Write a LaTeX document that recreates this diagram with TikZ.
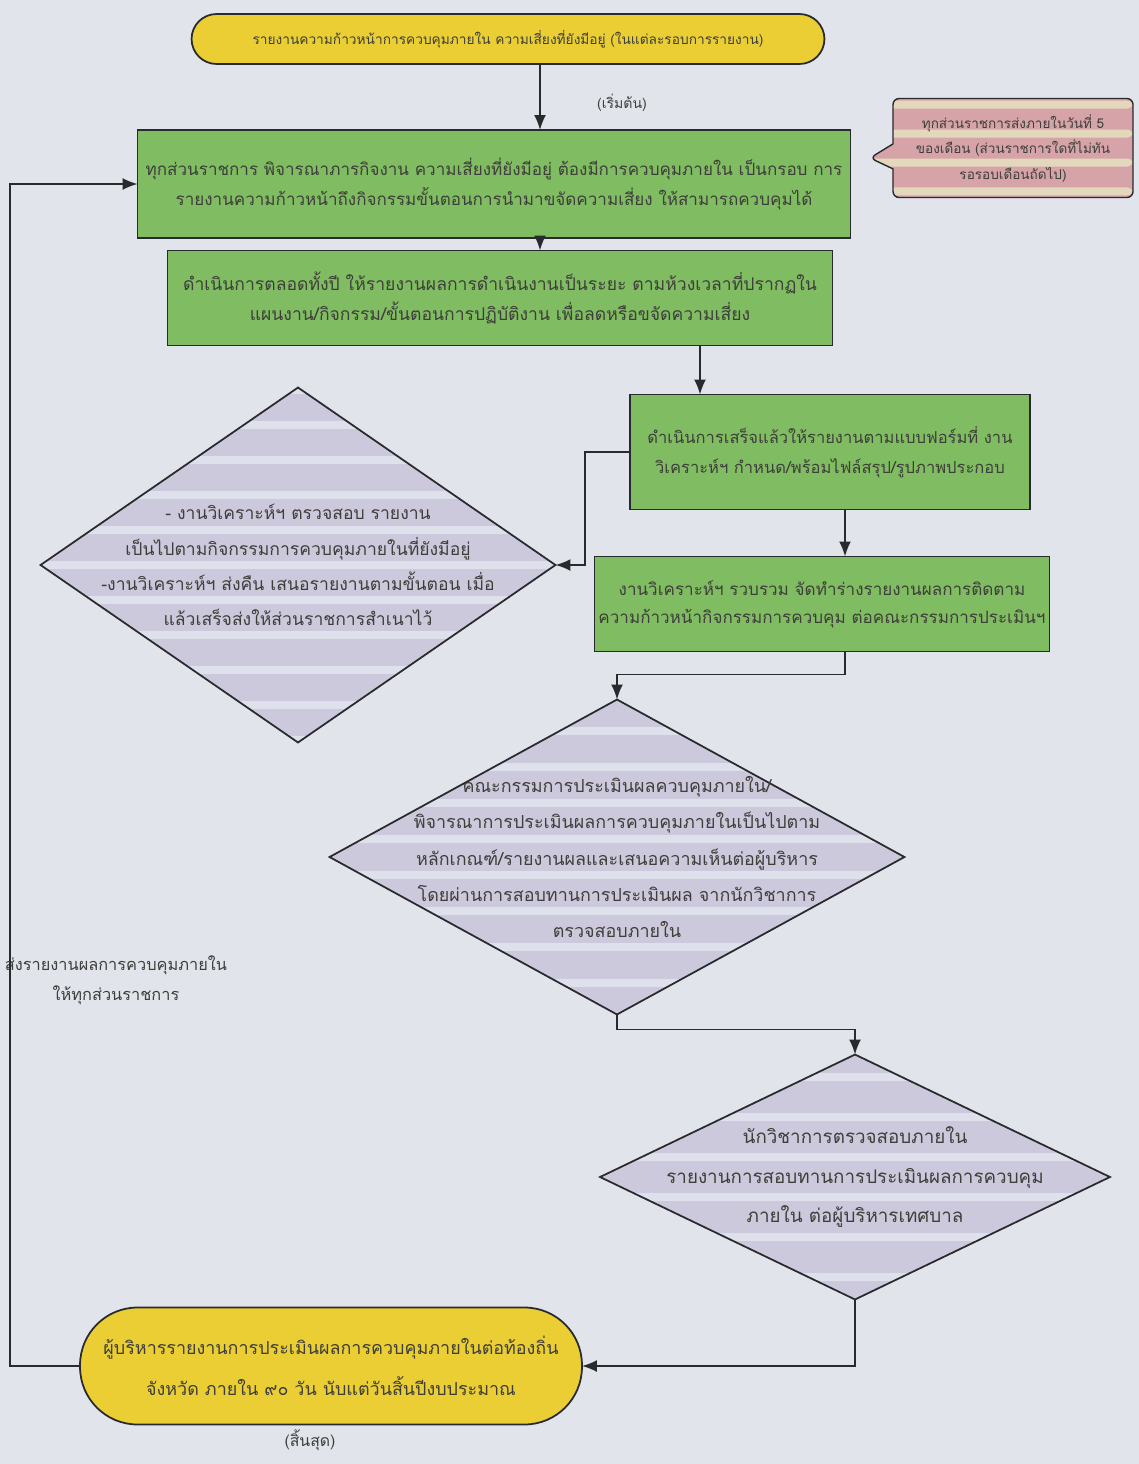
\documentclass[tikz,border=0pt]{standalone}
\usepackage{fontspec}
\newfontfamily\thaifont[Script=Thai]{Loma}
\usetikzlibrary{shapes.geometric, shapes.callouts, arrows.meta, positioning}
\definecolor{bgpaper}{RGB}{225,228,235}
\definecolor{termyellow}{RGB}{234,206,52}
\definecolor{boxgreen}{RGB}{128,188,98}
\definecolor{diamgray}{RGB}{205,201,220}
\definecolor{diamstripe}{RGB}{222,224,235}
\definecolor{notepink}{RGB}{214,164,168}
\definecolor{notestripe}{RGB}{228,216,188}
\definecolor{inkline}{RGB}{40,42,45}
\definecolor{inktext}{RGB}{62,62,58}

\begin{document}
\begin{tikzpicture}[x=0.02cm, y=-0.02cm,
    every node/.style={text=inktext},
    stripes/.style n args={3}{path picture={
        \foreach \k in {-12,...,12}{
          \fill[#1] ([yshift=\k*#2+#3-0.8mm]path picture bounding box.west)
            rectangle ([yshift=\k*#2+#3+0.8mm]path picture bounding box.east);}}},
    terminal/.style={draw=inkline, fill=termyellow, line width=1pt, align=center,
        inner sep=0pt, outer sep=0pt},
    stepbox/.style={draw=inkline, fill=boxgreen, line width=1pt, align=center,
        inner sep=0pt, outer sep=0pt},
    checkdiam/.style={diamond, draw=inkline, fill=diamgray, line width=1pt,
        inner sep=0pt, outer sep=0pt},
    checktext/.style={align=center, inner sep=0pt},
    link/.style={draw=inkline, line width=1pt, -{Latex[length=3mm,width=2.4mm]}}
  ]
  % paper
  \fill[bgpaper] (0,0) rectangle (1139,1464);
  \useasboundingbox (0,0) rectangle (1139,1464);

  % start
  \node[terminal, rounded corners=0.5cm, minimum width=12.66cm, minimum height=1cm,
    font=\thaifont\fontsize{7.8}{10}\selectfont] (start) at (508,39)
    {รายงานความก้าวหน้าการควบคุมภายใน ความเสี่ยงที่ยังมีอยู่ (ในแต่ละรอบการรายงาน)};
  \node[font=\thaifont\fontsize{8}{10}\selectfont] (startlbl) at (622,103) {(เริ่มต้น)};

  % note
  \node[rectangle callout, callout absolute pointer={(870,158)}, callout pointer width=0.5cm,
    draw=inkline, fill=notepink, stripes={notestripe}{0.58cm}{0.29cm}, rounded corners=0.12cm,
    line width=0.8pt, minimum width=4.8cm, minimum height=1.98cm, align=center,
    inner sep=0pt, font=\thaifont\fontsize{7.7}{14.5}\selectfont] (note) at (1013,148)
    {ทุกส่วนราชการส่งภายในวันที่ 5\\ของเดือน (ส่วนราชการใดที่ไม่ทัน\\รอรอบเดือนถัดไป)};

  % steps
  \node[stepbox, minimum width=14.26cm, minimum height=2.16cm,
    font=\thaifont\fontsize{9.7}{17}\selectfont] (box1) at (494,184)
    {ทุกส่วนราชการ พิจารณาภารกิจงาน ความเสี่ยงที่ยังมีอยู่ ต้องมีการควบคุมภายใน เป็นกรอบ การ\\
     รายงานความก้าวหน้าถึงกิจกรรมขั้นตอนการนำมาขจัดความเสี่ยง ให้สามารถควบคุมได้};
  \node[stepbox, minimum width=13.3cm, minimum height=1.9cm,
    font=\thaifont\fontsize{10}{17}\selectfont] (box2) at (500,298)
    {ดำเนินการตลอดทั้งปี ให้รายงานผลการดำเนินงานเป็นระยะ ตามห้วงเวลาที่ปรากฏใน\\
     แผนงาน/กิจกรรม/ขั้นตอนการปฏิบัติงาน เพื่อลดหรือขจัดความเสี่ยง};
  \node[stepbox, minimum width=8cm, minimum height=2.3cm,
    font=\thaifont\fontsize{9.4}{17}\selectfont] (box3) at (830,452)
    {ดำเนินการเสร็จแล้วให้รายงานตามแบบฟอร์มที่ งาน\\
     วิเคราะห์ฯ กำหนด/พร้อมไฟล์สรุป/รูปภาพประกอบ};
  \node[stepbox, minimum width=9.1cm, minimum height=1.9cm,
    font=\thaifont\fontsize{9.7}{16}\selectfont] (box4) at (822,604)
    {งานวิเคราะห์ฯ รวบรวม จัดทำร่างรายงานผลการติดตาม\\
     ความก้าวหน้ากิจกรรมการควบคุม ต่อคณะกรรมการประเมินฯ};

  % checks
  \node[checkdiam, stripes={diamstripe}{0.7cm}{0cm}, minimum width=10.3cm,
    minimum height=7.1cm] (diam1) at (298,565) {};
  \node[checktext, font=\thaifont\fontsize{10}{20}\selectfont] (diam1txt) at (diam1)
    {- งานวิเคราะห์ฯ ตรวจสอบ รายงาน\\
     เป็นไปตามกิจกรรมการควบคุมภายในที่ยังมีอยู่\\
     -งานวิเคราะห์ฯ ส่งคืน เสนอรายงานตามขั้นตอน เมื่อ\\
     แล้วเสร็จส่งให้ส่วนราชการสำเนาไว้};
  \node[checkdiam, stripes={diamstripe}{0.72cm}{0.36cm}, minimum width=11.5cm,
    minimum height=6.3cm] (diam2) at (617,857) {};
  \node[checktext, font=\thaifont\fontsize{10.2}{20.5}\selectfont] (diam2txt) at (diam2)
    {คณะกรรมการประเมินผลควบคุมภายใน/\\
     พิจารณาการประเมินผลการควบคุมภายในเป็นไปตาม\\
     หลักเกณฑ์/รายงานผลและเสนอความเห็นต่อผู้บริหาร\\
     โดยผ่านการสอบทานการประเมินผล จากนักวิชาการ\\
     ตรวจสอบภายใน};
  \node[checkdiam, stripes={diamstripe}{0.8cm}{0.4cm}, minimum width=10.2cm,
    minimum height=4.9cm] (diam3) at (855,1177) {};
  \node[checktext, font=\thaifont\fontsize{10.7}{22.5}\selectfont] (diam3txt) at (diam3)
    {นักวิชาการตรวจสอบภายใน\\
     รายงานการสอบทานการประเมินผลการควบคุม\\
     ภายใน ต่อผู้บริหารเทศบาล};

  % finish
  \node[terminal, rounded corners=1.15cm, minimum width=10.04cm, minimum height=2.34cm,
    font=\thaifont\fontsize{10.2}{23}\selectfont] (finish) at (331,1366)
    {ผู้บริหารรายงานการประเมินผลการควบคุมภายในต่อท้องถิ่น\\
     จังหวัด ภายใน ๙๐ วัน นับแต่วันสิ้นปีงบประมาณ};
  \node[font=\thaifont\fontsize{9}{11}\selectfont] (endlbl) at (310,1440) {(สิ้นสุด)};

  % feedback label
  \node[align=center, font=\thaifont\fontsize{9.3}{17}\selectfont] (backlbl) at (116,980)
    {ส่งรายงานผลการควบคุมภายใน\\ให้ทุกส่วนราชการ};

  % connectors
  \coordinate (a1) at (540,0);
  \coordinate (a2) at (700,0);
  \coordinate (a3) at (845,0);
  \coordinate (b1) at (585,0);
  \coordinate (c1) at (10,0);
  \draw[link] (start.south -| a1) -- (box1.north -| a1);
  \draw[link] (box1.south -| a1) -- (box2.north -| a1);
  \draw[link] (box2.south -| a2) -- (box3.north -| a2);
  \draw[link] (box3.west) -- (box3.west -| b1) |- (diam1.east);
  \draw[link] (box3.south -| a3) -- (box4.north -| a3);
  \draw[link] (box4.south -| a3) -- ++(0,23) -| (diam2.north);
  \draw[link] (diam2.south) -- ++(0,15) -| (diam3.north);
  \draw[link] (diam3.south) |- (finish.east);
  \draw[link] (finish.west) -- (finish.west -| c1) -- (c1 |- box1.west) -- (box1.west);
\end{tikzpicture}
\end{document}
